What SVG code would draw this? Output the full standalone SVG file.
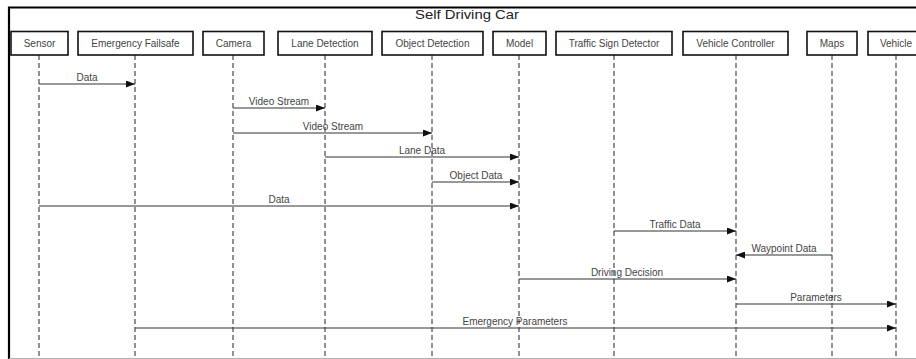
<svg xmlns="http://www.w3.org/2000/svg" width="916" height="359" viewBox="0 0 916 359">
  <style>
    .frame { stroke: #000; stroke-width: 2.2; fill: none; }
    .base { stroke: #b0b0b0; stroke-width: 1; }
    .box { fill: #fff; stroke: #111; stroke-width: 1.6; }
    .label { font-family: "Liberation Sans", Arial, sans-serif; font-size: 10px; fill: #444; text-anchor: middle; }
    .title { font-family: "Liberation Sans", Arial, sans-serif; font-size: 13px; fill: #222; text-anchor: middle; }
    .life { stroke: #222; stroke-width: 1; stroke-dasharray: 5 3; }
    .msg { stroke: #333; stroke-width: 1; fill: none; marker-end: url(#head); }
  </style>
  <defs>
    <marker id="head" markerUnits="userSpaceOnUse" markerWidth="9" markerHeight="7" refX="9" refY="3.5" orient="auto">
      <path d="M0,0 L9,3.5 L0,7 z" fill="#111"/>
    </marker>
  </defs>

  <rect width="916" height="359" fill="#fff"/>

  <!-- outer frame -->
  <path class="frame" d="M9,359 L9,7.5 L916,7.5"/>
  <line class="base" x1="9" y1="358.5" x2="916" y2="358.5"/>
  <text class="title" x="467" y="19" textLength="104" lengthAdjust="spacingAndGlyphs">Self Driving Car</text>

  <!-- participants -->
  <g id="sensor">
    <line class="life" x1="39" y1="55" x2="39" y2="359"/>
    <rect class="box" x="11" y="31.5" width="57" height="23.5"/>
    <text class="label" x="39.5" y="47">Sensor</text>
  </g>
  <g id="emergency-failsafe">
    <line class="life" x1="135" y1="55" x2="135" y2="359"/>
    <rect class="box" x="78" y="31.5" width="115" height="23.5"/>
    <text class="label" x="135.5" y="47">Emergency Failsafe</text>
  </g>
  <g id="camera">
    <line class="life" x1="233" y1="55" x2="233" y2="359"/>
    <rect class="box" x="203" y="31.5" width="61" height="23.5"/>
    <text class="label" x="233.5" y="47">Camera</text>
  </g>
  <g id="lane-detection">
    <line class="life" x1="325" y1="55" x2="325" y2="359"/>
    <rect class="box" x="278" y="31.5" width="94" height="23.5"/>
    <text class="label" x="325" y="47">Lane Detection</text>
  </g>
  <g id="object-detection">
    <line class="life" x1="432" y1="55" x2="432" y2="359"/>
    <rect class="box" x="382" y="31.5" width="101" height="23.5"/>
    <text class="label" x="432.5" y="47">Object Detection</text>
  </g>
  <g id="model">
    <line class="life" x1="519" y1="55" x2="519" y2="359"/>
    <rect class="box" x="493" y="31.5" width="53" height="23.5"/>
    <text class="label" x="519.5" y="47">Model</text>
  </g>
  <g id="traffic-sign-detector">
    <line class="life" x1="614" y1="55" x2="614" y2="359"/>
    <rect class="box" x="556" y="31.5" width="116" height="23.5"/>
    <text class="label" x="614" y="47">Traffic Sign Detector</text>
  </g>
  <g id="vehicle-controller">
    <line class="life" x1="736" y1="55" x2="736" y2="359"/>
    <rect class="box" x="683" y="31.5" width="105" height="23.5"/>
    <text class="label" x="735.5" y="47">Vehicle Controller</text>
  </g>
  <g id="maps">
    <line class="life" x1="832" y1="55" x2="832" y2="359"/>
    <rect class="box" x="807" y="31.5" width="50" height="23.5"/>
    <text class="label" x="832" y="47">Maps</text>
  </g>
  <g id="vehicle">
    <line class="life" x1="896" y1="55" x2="896" y2="359"/>
    <rect class="box" x="868" y="31.5" width="56" height="23.5"/>
    <text class="label" x="896" y="47">Vehicle</text>
  </g>

  <!-- messages -->
  <g id="messages">
    <line class="msg" x1="39" y1="84" x2="135" y2="84"/>
    <text class="label" x="87" y="81">Data</text>

    <line class="msg" x1="233" y1="108" x2="325" y2="108"/>
    <text class="label" x="279" y="105">Video Stream</text>

    <line class="msg" x1="233" y1="133" x2="432" y2="133"/>
    <text class="label" x="333" y="130">Video Stream</text>

    <line class="msg" x1="325" y1="157" x2="519" y2="157"/>
    <text class="label" x="422" y="154">Lane Data</text>

    <line class="msg" x1="432" y1="182" x2="519" y2="182"/>
    <text class="label" x="476" y="179">Object Data</text>

    <line class="msg" x1="39" y1="206" x2="519" y2="206"/>
    <text class="label" x="279" y="203">Data</text>

    <line class="msg" x1="614" y1="231" x2="736" y2="231"/>
    <text class="label" x="675" y="228">Traffic Data</text>

    <line class="msg" x1="832" y1="255" x2="736" y2="255"/>
    <text class="label" x="784" y="252">Waypoint Data</text>

    <line class="msg" x1="519" y1="279" x2="736" y2="279"/>
    <text class="label" x="627" y="276">Driving Decision</text>

    <line class="msg" x1="736" y1="304" x2="896" y2="304"/>
    <text class="label" x="816" y="301">Parameters</text>

    <line class="msg" x1="135" y1="328" x2="896" y2="328"/>
    <text class="label" x="515" y="325">Emergency Parameters</text>
  </g>
</svg>
